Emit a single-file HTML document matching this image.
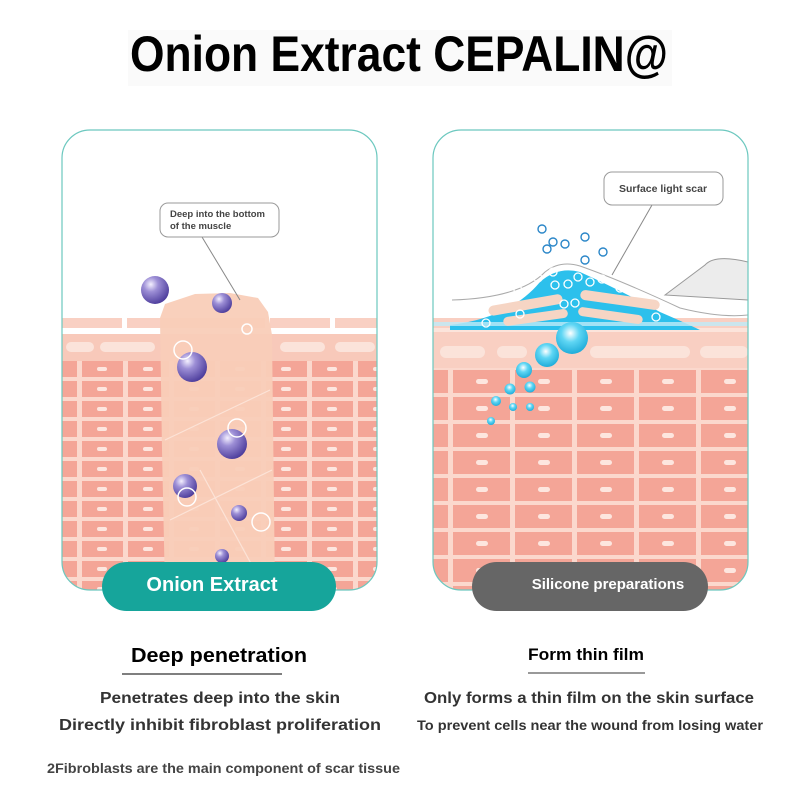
<!DOCTYPE html>
<html><head><meta charset="utf-8"><style>
html,body{margin:0;padding:0;background:#fff}
svg{display:block}
text{font-family:"Liberation Sans Narrow","Liberation Sans",sans-serif;font-weight:bold}
</style></head><body>
<svg width="800" height="800" viewBox="0 0 800 800" xmlns="http://www.w3.org/2000/svg">
<defs>
<radialGradient id="pg" cx="0.35" cy="0.3" r="0.75"><stop offset="0" stop-color="#f4f0ff"/><stop offset="0.35" stop-color="#9d8fd6"/><stop offset="1" stop-color="#4a3a9a"/></radialGradient>
<radialGradient id="bg" cx="0.45" cy="0.35" r="0.7"><stop offset="0" stop-color="#ffffff"/><stop offset="0.4" stop-color="#5fd6f4"/><stop offset="1" stop-color="#17a7d6"/></radialGradient>
<pattern id="lc" x="36" y="361" width="46" height="20" patternUnits="userSpaceOnUse">
<rect width="46" height="20" fill="#fbd8cd"/><rect x="0" y="0" width="41" height="16" fill="#f4a597"/><rect x="15" y="6" width="10" height="4" rx="2" fill="#fde6df"/></pattern>
<pattern id="rc" x="453" y="370" width="62" height="27" patternUnits="userSpaceOnUse">
<rect width="62" height="27" fill="#fbd8cd"/><rect x="0" y="0" width="57" height="23" fill="#f4a597"/><rect x="23" y="9" width="12" height="5" rx="2.5" fill="#fde6df"/></pattern>
<clipPath id="lcl"><rect x="62" y="130" width="315" height="460" rx="28"/></clipPath>
<clipPath id="rcl"><rect x="433" y="130" width="315" height="460" rx="28"/></clipPath>
</defs>
<rect x="128" y="30" width="544" height="56" fill="#fafafa"/>
<text x="130" y="71" font-size="50" textLength="538" lengthAdjust="spacingAndGlyphs" fill="#000">Onion Extract CEPALIN@</text>

<!-- LEFT PANEL -->
<g clip-path="url(#lcl)">
<rect x="62" y="130" width="315" height="460" fill="#fff"/>
<rect x="62" y="318" width="315" height="10" fill="#f9d0c3"/>
<g fill="#fff"><rect x="122" y="318" width="5" height="10"/><rect x="265" y="318" width="5" height="10"/><rect x="330" y="318" width="5" height="10"/></g>
<rect x="62" y="328" width="315" height="6" fill="#fff"/>
<rect x="62" y="334" width="315" height="27" fill="#f8c9ba"/>
<g fill="#fbe3da"><rect x="66" y="342" width="28" height="10" rx="5"/><rect x="100" y="342" width="55" height="10" rx="5"/><rect x="280" y="342" width="45" height="10" rx="5"/><rect x="335" y="342" width="40" height="10" rx="5"/></g>
<rect x="62" y="361" width="315" height="229" fill="url(#lc)"/>
<path d="M160,318 L165,304 L195,294 L230,293 L258,298 L268,312 L272,335 L275,590 L165,590 L162,450 Z" fill="#f9cdb8" opacity="0.95"/>
<g stroke="#fde9df" stroke-width="1.2" fill="none" opacity="0.8"><path d="M165,440 L270,390"/><path d="M170,520 L272,470"/><path d="M200,470 L260,580"/></g>
</g>
<rect x="62" y="130" width="315" height="460" rx="28" fill="none" stroke="#6cc8bf" stroke-width="1.2"/>
<line x1="202" y1="237" x2="240" y2="300" stroke="#888" stroke-width="1"/>
<rect x="160" y="203" width="119" height="34" rx="8" fill="#fff" stroke="#999" stroke-width="1"/>
<text x="170" y="217" font-size="9.5" fill="#444">Deep into the bottom</text>
<text x="170" y="229" font-size="9.5" fill="#444">of the muscle</text>
<g fill="url(#pg)"><circle cx="155" cy="290" r="14"/><circle cx="222" cy="303" r="10"/><circle cx="192" cy="367" r="15"/><circle cx="232" cy="444" r="15"/><circle cx="185" cy="486" r="12"/><circle cx="239" cy="513" r="8"/><circle cx="222" cy="556" r="7"/></g>
<g fill="none" stroke="#fff" stroke-width="1.5"><circle cx="183" cy="350" r="9"/><circle cx="247" cy="329" r="5"/><circle cx="237" cy="428" r="9"/><circle cx="187" cy="497" r="9"/><circle cx="261" cy="522" r="9"/></g>
<rect x="102" y="562" width="234" height="49" rx="24.5" fill="#16a59b"/>
<text x="212" y="591" font-size="20" fill="#fff" text-anchor="middle">Onion Extract</text>

<!-- RIGHT PANEL -->
<g clip-path="url(#rcl)">
<rect x="433" y="130" width="315" height="460" fill="#fff"/>
<rect x="433" y="318" width="315" height="50" fill="#f9cfc2"/>
<rect x="433" y="328" width="315" height="4" fill="#fce4db"/>
<g fill="#fbe3da"><rect x="440" y="346" width="45" height="12" rx="6"/><rect x="497" y="346" width="30" height="12" rx="6"/><rect x="590" y="346" width="100" height="12" rx="6"/><rect x="700" y="346" width="48" height="12" rx="6"/></g>
<rect x="433" y="368" width="315" height="222" fill="url(#rc)"/>
<path d="M665,295 L705,265 Q715,254 748,262 L748,300 Z" fill="#ececec" stroke="#999" stroke-width="1"/>
<path d="M452,300 Q520,298 545,272 Q560,260 580,266 Q620,280 680,308 Q720,318 748,315" fill="none" stroke="#aaa" stroke-width="1"/>
<path d="M450,325 Q510,318 540,282 Q558,266 580,272 Q620,290 660,312 Q690,325 700,330 L450,330 Z" fill="#2cc0ec"/>
<rect x="433" y="322" width="315" height="4" fill="#bfeaf8" opacity="0.8"/>
<g fill="#f6d5c4"><rect x="488" y="300" width="75" height="10" rx="5" transform="rotate(-10 525 305)"/><rect x="503" y="313" width="65" height="9" rx="4.5" transform="rotate(-8 535 317)"/><rect x="580" y="295" width="80" height="10" rx="5" transform="rotate(8 620 300)"/><rect x="578" y="311" width="65" height="9" rx="4.5" transform="rotate(8 610 315)"/></g>
<g fill="none" stroke="#fff" stroke-width="1.3"><circle cx="518" cy="290" r="4"/><circle cx="538" cy="278" r="4"/><circle cx="553" cy="272" r="4"/><circle cx="555" cy="285" r="4"/><circle cx="568" cy="284" r="4"/><circle cx="578" cy="277" r="4"/><circle cx="590" cy="282" r="4"/><circle cx="602" cy="279" r="4"/><circle cx="620" cy="288" r="4"/><circle cx="564" cy="304" r="4"/><circle cx="575" cy="303" r="4"/><circle cx="520" cy="314" r="4"/><circle cx="656" cy="317" r="4"/><circle cx="486" cy="323" r="4"/></g>
</g>
<rect x="433" y="130" width="315" height="460" rx="28" fill="none" stroke="#6cc8bf" stroke-width="1.2"/>
<line x1="652" y1="205" x2="612" y2="275" stroke="#888" stroke-width="1"/>
<rect x="604" y="172" width="119" height="33" rx="8" fill="#fff" stroke="#999" stroke-width="1"/>
<text x="663" y="192" font-size="10.5" fill="#444" text-anchor="middle">Surface light scar</text>
<g fill="none" stroke="#2a86c8" stroke-width="1.4"><circle cx="542" cy="229" r="4"/><circle cx="553" cy="242" r="4"/><circle cx="547" cy="249" r="4"/><circle cx="565" cy="244" r="4"/><circle cx="585" cy="237" r="4"/><circle cx="585" cy="260" r="4"/><circle cx="603" cy="252" r="4"/><circle cx="604" cy="235" r="4" stroke="none"/></g>
<g fill="url(#bg)"><circle cx="572" cy="338" r="16"/><circle cx="547" cy="355" r="12"/><circle cx="524" cy="370" r="8"/><circle cx="510" cy="389" r="5.5"/><circle cx="530" cy="387" r="5.5"/><circle cx="496" cy="401" r="5"/><circle cx="513" cy="407" r="4"/><circle cx="530" cy="407" r="4"/><circle cx="491" cy="421" r="4"/></g>
<rect x="472" y="562" width="236" height="49" rx="24.5" fill="#666"/>
<text x="608" y="589" font-size="15" fill="#fff" text-anchor="middle">Silicone preparations</text>

<!-- BOTTOM TEXT -->
<text x="131" y="662" font-size="20" textLength="176" lengthAdjust="spacingAndGlyphs" fill="#000">Deep penetration</text>
<line x1="122" y1="674" x2="282" y2="674" stroke="#333" stroke-width="1.2"/>
<text x="528" y="660" font-size="17" textLength="116" lengthAdjust="spacingAndGlyphs" fill="#000">Form thin film</text>
<line x1="528" y1="673" x2="645" y2="673" stroke="#333" stroke-width="1"/>
<text x="100" y="703" font-size="16" textLength="240" lengthAdjust="spacingAndGlyphs" fill="#333">Penetrates deep into the skin</text>
<text x="59" y="730" font-size="16" textLength="322" lengthAdjust="spacingAndGlyphs" fill="#333">Directly inhibit fibroblast proliferation</text>
<text x="424" y="703" font-size="16" textLength="330" lengthAdjust="spacingAndGlyphs" fill="#333">Only forms a thin film on the skin surface</text>
<text x="417" y="730" font-size="14" textLength="346" lengthAdjust="spacingAndGlyphs" fill="#333">To prevent cells near the wound from losing water</text>
<text x="47" y="773" font-size="14" textLength="353" lengthAdjust="spacingAndGlyphs" fill="#444">2Fibroblasts are the main component of scar tissue</text>
</svg>
</body></html>
